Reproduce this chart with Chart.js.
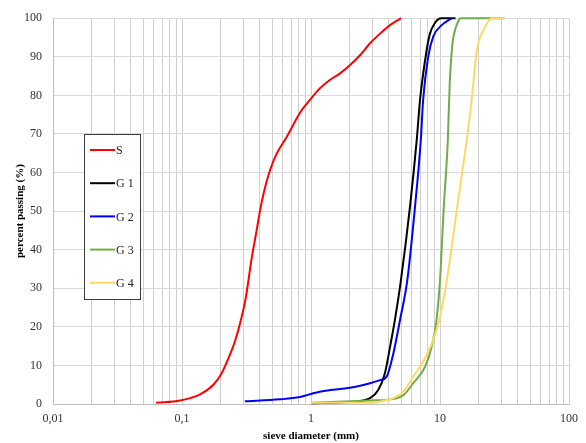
<!DOCTYPE html>
<html>
<head>
<meta charset="utf-8">
<script src="https://cdn.jsdelivr.net/npm/chart.js@4.4.0/dist/chart.umd.min.js"></script>
<style>
  body { margin: 0; background: #fff; }
  #wrap { width: 586px; height: 443px; }
</style>
</head>
<body>
<div id="wrap"><canvas id="psdChart" width="586" height="443"></canvas></div>
<script>
// sieve diameter (mm) vs percent passing
const sDiam = [0.063, 0.097, 0.138, 0.175, 0.203, 0.229, 0.257, 0.285, 0.312, 0.347, 0.379, 0.402, 0.432, 0.481, 0.542, 0.648, 0.822, 0.98, 1.17, 1.4, 1.68, 2.0, 2.4, 2.87, 3.43, 4.1, 5.0];
const sPass = [0.3, 0.9, 2.5, 5.0, 8, 11.8, 16.2, 21.5, 27.5, 37.8, 45, 50, 55, 60.6, 64.9, 69.2, 75.5, 78.8, 81.8, 84, 85.7, 87.8, 90.4, 93.5, 96, 98.2, 100];

const g1Diam = [1, 2, 2.87, 3.32, 3.74, 4.1, 4.47, 4.98, 5.85, 6.6, 7.0, 7.88, 8.36, 9.1, 10.2, 13.2];
const g1Pass = [0.2, 0.5, 1.5, 3.6, 8, 14.8, 21.8, 32.1, 51.1, 68.4, 78.8, 91.7, 96, 98.7, 100, 100];

const g2Diam = [0.307, 0.575, 0.82, 1.04, 1.17, 1.4, 2.0, 2.87, 3.43, 3.86, 4.35, 4.9, 5.58, 6.4, 7.1, 7.4, 8.1, 8.86, 10.3, 12.3];
const g2Pass = [0.7, 1.2, 1.8, 2.8, 3.2, 3.6, 4.2, 5.4, 6.2, 7.1, 13.1, 21.8, 32.1, 51.1, 68.4, 78.8, 90, 95.2, 98.2, 100];

const g3Diam = [1, 2.87, 4.1, 5.2, 6.2, 7.67, 8.6, 9.4, 10, 10.7, 11.5, 11.9, 12.5, 13.3, 14.1, 14.5, 31.5];
const g3Pass = [0.3, 0.9, 1.2, 2.3, 5.4, 9.7, 14.8, 21.8, 32.1, 51.1, 68.4, 83.2, 93.5, 97.7, 99.7, 100, 100];

const g4Diam = [1, 2.87, 3.43, 4.35, 5.2, 6.2, 7.4, 8.86, 10, 11.3, 13.6, 16.1, 17.6, 19.3, 21.7, 25.2, 31.5];
const g4Pass = [0.3, 0.3, 0.6, 1.5, 3.2, 7.1, 11, 16.6, 22.6, 32.1, 51.1, 68.4, 78.8, 91.7, 96.9, 100, 100];

const seriesNames = ['S', 'G 1', 'G 2', 'G 3', 'G 4'];
const seriesColors = ['#ff0000', '#000000', '#0000ff', '#70ad47', '#ffd966'];

// x ticks: decades 0.01..100 plus minor steps
const xTickValues = [];
for (let e = -2; e <= 1; e++) {
    for (let m = 1; m <= 9; m++) {
        xTickValues.push(Number((m * Math.pow(10, e)).toPrecision(3)));
    }
}
xTickValues.push(100);

const yTicks = [0, 10, 20, 30, 40, 50, 60, 70, 80, 90, 100];

function pts(xs, ys) {
    return xs.map((x, i) => ({ x: x, y: ys[i] }));
}

const allSeries = [
    pts(sDiam, sPass),
    pts(g1Diam, g1Pass),
    pts(g2Diam, g2Pass),
    pts(g3Diam, g3Pass),
    pts(g4Diam, g4Pass)
];

const serif = '"Liberation Serif", "Times New Roman", serif';

// legend drawn as a framed box inside the plot, like the original
const boxLegend = {
    id: 'boxLegend',
    afterDatasetsDraw(chart) {
        const ctx = chart.ctx;
        ctx.save();
        ctx.fillStyle = '#ffffff';
        ctx.fillRect(84.5, 134.5, 56, 165);
        ctx.strokeStyle = '#3c3c3c';
        ctx.lineWidth = 1;
        ctx.strokeRect(84.5, 134.5, 56, 165);
        ctx.font = '12px ' + serif;
        ctx.textBaseline = 'middle';
        chart.data.datasets.forEach((ds, i) => {
            const y = 150 + i * 33.2;
            ctx.strokeStyle = ds.borderColor;
            ctx.lineWidth = 2;
            ctx.beginPath();
            ctx.moveTo(90, y);
            ctx.lineTo(115, y);
            ctx.stroke();
            ctx.fillStyle = '#222';
            ctx.fillText(ds.label, 116, y + 1);
        });
        ctx.restore();
    }
};

function createChart() {
    const ctx = document.getElementById('psdChart').getContext('2d');
    new Chart(ctx, {
        type: 'line',
        data: {
            datasets: allSeries.map((d, i) => ({
                label: seriesNames[i],
                data: d,
                borderColor: seriesColors[i],
                backgroundColor: seriesColors[i],
                borderWidth: 2,
                pointRadius: 0,
                fill: false,
                cubicInterpolationMode: 'monotone',
                clip: false,
                order: seriesNames.length - i
            }))
        },
        options: {
            responsive: false,
            animation: false,
            layout: { padding: { top: 18, right: 17, left: 0, bottom: 0 } },
            plugins: {
                legend: { display: false },
                tooltip: { enabled: false }
            },
            scales: {
                x: {
                    type: 'logarithmic',
                    min: 0.01,
                    max: 100,
                    afterBuildTicks: (scale) => {
                        scale.ticks = xTickValues.map(v => ({ value: v }));
                    },
                    afterFit: (scale) => { scale.height = 39; },
                    grid: { color: '#cfcfcf', drawTicks: false },
                    border: { color: '#bfbfbf' },
                    ticks: {
                        autoSkip: false,
                        maxRotation: 0,
                        padding: 8,
                        color: '#333',
                        font: { family: serif, size: 12 },
                        callback: (v) => {
                            const l = Math.log10(v);
                            if (Math.abs(l - Math.round(l)) > 1e-9) return '';
                            return String(v).replace('.', ',');
                        }
                    },
                    title: {
                        display: true,
                        text: 'sieve diameter (mm)',
                        color: '#000',
                        font: { family: serif, size: 11, weight: 'bold' },
                        padding: { top: 0, bottom: 0 }
                    }
                },
                y: {
                    min: 0,
                    max: 100,
                    afterBuildTicks: (scale) => {
                        scale.ticks = yTicks.map(v => ({ value: v }));
                    },
                    afterFit: (scale) => { scale.width = 53; },
                    grid: { color: '#d9d9d9', drawTicks: false },
                    border: { color: '#bfbfbf' },
                    ticks: {
                        padding: 11,
                        color: '#333',
                        font: { family: serif, size: 12 }
                    },
                    title: {
                        display: true,
                        text: 'percent passing (%)',
                        color: '#000',
                        font: { family: serif, size: 11, weight: 'bold' },
                        padding: { top: 14, bottom: 0 }
                    }
                }
            }
        },
        plugins: [boxLegend]
    });
}

window.onload = createChart;
</script>
</body>
</html>
